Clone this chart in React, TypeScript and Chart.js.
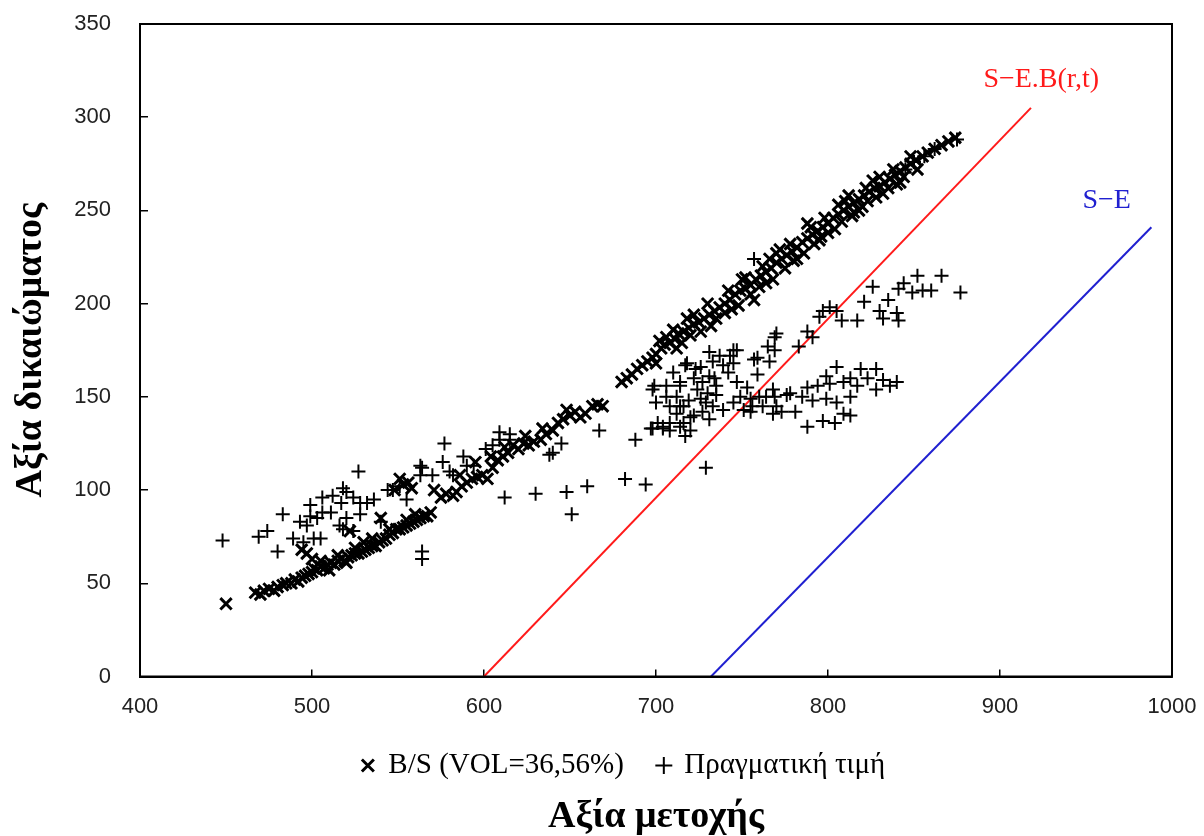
import React, { useEffect, useRef } from "react";
import { Chart, registerables } from "chart.js";

Chart.register(...registerables);

// ---- Data ----
const xTicks = [400, 500, 600, 700, 800, 900, 1000];
const yTicks = [0, 50, 100, 150, 200, 250, 300, 350];

// Black-Scholes values (×): [stock value, option value]
const bsPoints: number[][] = [
  [450, 39], [467, 45], [470, 44], [472, 46], [475, 47], [478, 46], [480, 48], [483, 49], [485, 50], [488, 50],
  [490, 52], [492, 51], [494, 53], [496, 54], [498, 55], [500, 56], [501, 58], [503, 57], [505, 59], [507, 58],
  [509, 60], [511, 61], [513, 60], [515, 62], [517, 63], [519, 62], [521, 64], [523, 65], [525, 66], [527, 66],
  [529, 67], [531, 68], [533, 69], [535, 70], [537, 70], [539, 72], [541, 73], [543, 74], [545, 76], [547, 77],
  [549, 79], [551, 79], [553, 80], [555, 81], [557, 82], [559, 83], [561, 84], [563, 85], [565, 86], [567, 86],
  [569, 88], [494, 68], [497, 66], [500, 63], [522, 78], [530, 72], [540, 85], [548, 100], [551, 106], [553, 103],
  [556, 104], [558, 101], [571, 100], [575, 96], [578, 98], [582, 97], [584, 99], [587, 102], [590, 104], [593, 106],
  [596, 107], [599, 108], [602, 106], [605, 112], [608, 116], [611, 118], [614, 120], [617, 124], [620, 122], [623, 125],
  [626, 124], [629, 126], [633, 127], [636, 130], [640, 132], [643, 136], [646, 138], [650, 140], [653, 142], [656, 139],
  [659, 141], [663, 145], [666, 146], [669, 145], [586, 108], [595, 115], [604, 118], [612, 123], [624, 129], [634, 133],
  [648, 143], [505, 62], [515, 65], [525, 69], [535, 74], [545, 79], [555, 84], [560, 87], [510, 57], [520, 61],
  [680, 158], [683, 160], [686, 162], [689, 165], [692, 167], [695, 169], [698, 171], [700, 173], [703, 176],
  [705, 178], [708, 179], [711, 181], [713, 184], [716, 185], [719, 187], [722, 189], [725, 190], [728, 192], [731, 194],
  [734, 196], [737, 198], [740, 200], [743, 202], [746, 205], [749, 207], [752, 208], [755, 210], [758, 213], [761, 215],
  [764, 217], [767, 219], [770, 222], [773, 224], [776, 226], [779, 228], [782, 230], [785, 233], [788, 235], [791, 237],
  [794, 239], [797, 241], [800, 243], [803, 246], [806, 248], [809, 250], [812, 252], [815, 254], [818, 256], [821, 258],
  [824, 260], [827, 262], [830, 263], [833, 265], [836, 267], [839, 269], [842, 271], [845, 273], [848, 275], [851, 277],
  [855, 279], [858, 281], [862, 283], [866, 285], [870, 287], [874, 289], [700, 168], [710, 186], [720, 183], [730, 200],
  [740, 195], [750, 213], [760, 209], [770, 227], [780, 223], [790, 241], [800, 238], [810, 255], [820, 252], [830, 268],
  [840, 264], [715, 179], [735, 192], [755, 205], [775, 219], [795, 234], [815, 249], [835, 262],
  [706, 182], [718, 192], [726, 185], [742, 207], [748, 199], [762, 220], [768, 213], [778, 232], [786, 227], [798, 246],
  [804, 240], [812, 258], [818, 250], [826, 266], [832, 259], [844, 268], [848, 279], [823, 255], [808, 244], [792, 232],
  [702, 180], [712, 176], [722, 194], [732, 188], [744, 197], [752, 214], [764, 211], [772, 229], [782, 224], [788, 243],
  [796, 236], [806, 253], [814, 247], [822, 262], [828, 257], [838, 272], [842, 265], [852, 272], [757, 202], [766, 224],
];

// Actual market prices (+): [stock value, option value]
const actualPoints: number[][] = [
  [448, 73], [469, 75], [474, 78], [480, 67], [483, 87], [489, 74], [493, 83], [495, 72], [497, 81], [499, 86],
  [499, 92], [501, 74], [503, 85], [505, 74], [506, 88], [506, 96], [511, 88], [512, 97], [516, 81], [517, 93],
  [518, 79], [518, 101], [520, 85], [520, 99], [524, 96], [524, 78], [527, 110], [528, 87], [528, 93], [532, 93],
  [536, 95], [540, 83], [544, 100], [547, 100], [551, 102], [555, 95], [563, 113], [563, 108], [564, 67], [564, 63],
  [564, 112], [570, 108], [576, 115], [577, 125], [580, 110], [582, 108], [588, 118], [590, 113], [594, 113], [601, 122],
  [605, 124], [609, 131], [609, 127], [612, 96], [615, 127], [615, 130], [630, 98], [638, 119], [640, 120], [645, 125],
  [648, 99], [651, 87], [660, 102], [667, 132], [682, 106], [688, 127], [694, 103], [697, 133], [704, 134], [714, 134],
  [717, 129], [729, 112],
  [698, 154], [699, 156], [700, 147], [701, 136], [698, 133], [704, 133], [706, 150], [706, 156], [708, 145], [708, 136],
  [708, 132], [714, 158], [714, 145], [714, 156], [716, 145], [716, 136], [717, 167], [718, 168], [720, 139], [720, 132],
  [722, 140], [722, 160], [724, 154], [726, 166], [726, 149], [727, 158], [727, 142], [730, 152], [731, 174], [731, 161],
  [731, 138], [733, 169], [733, 145], [735, 156], [735, 151], [737, 172], [739, 167], [739, 143], [743, 172], [745, 168],
  [745, 175], [745, 147], [747, 175], [747, 158], [749, 150], [751, 143], [753, 155], [755, 149], [755, 142], [756, 145],
  [757, 170], [759, 171], [759, 162], [760, 150], [762, 145], [764, 150], [765, 177], [766, 169], [768, 154], [768, 141],
  [769, 175], [769, 150], [769, 182], [770, 184], [770, 145], [773, 142], [776, 151], [778, 152], [781, 142], [783, 177],
  [785, 150], [788, 185], [788, 155], [788, 134], [791, 182], [791, 148],
  [794, 156], [795, 193], [797, 137], [797, 196], [799, 161], [799, 149], [801, 157], [801, 198], [804, 136], [805, 166],
  [805, 147], [805, 196], [808, 191], [809, 158], [809, 141], [813, 160], [813, 150], [813, 140], [817, 156], [817, 191],
  [819, 165], [821, 201], [823, 160], [826, 209], [828, 165], [828, 154], [830, 196], [832, 159], [832, 192], [835, 202],
  [836, 156], [840, 158], [840, 195], [841, 208], [841, 191], [844, 211], [849, 206], [852, 215], [855, 207], [860, 207],
  [866, 215], [877, 206],
  [757, 224], [845, 272], [850, 276], [856, 279], [862, 283], [875, 288],
  [710, 163], [712, 150], [719, 148], [723, 165], [729, 147], [734, 160], [742, 163], [712, 141],
];

// Intrinsic value lines
const redLine: number[][] = [[600, 0], [918, 305]];
const blueLine: number[][] = [[732, 0], [988, 241]];

const seriesLabels = ["B/S (VOL=36,56%)", "Πραγματική τιμή"];
const lineLabels = ["S−E.B(r,t)", "S−E"];
const lineLabelPos: number[][] = [[924, 320], [962, 255]];
const lineColors = ["#ff1a1a", "#2020d0"];

const toXY = (arr: number[][]) => arr.map(([x, y]) => ({ x, y }));

const framePlugin = {
  id: "frame",
  afterDraw(chart: any) {
    const { ctx, chartArea } = chart;
    ctx.save();
    ctx.strokeStyle = "#000";
    ctx.lineWidth = 2;
    ctx.strokeRect(chartArea.left, chartArea.top, chartArea.right - chartArea.left, chartArea.bottom - chartArea.top);
    const xs = chart.scales.x;
    const ys = chart.scales.y;
    ctx.font = "28px 'Liberation Serif', serif";
    ctx.textAlign = "center";
    ctx.textBaseline = "middle";
    lineLabels.forEach((t, i) => {
      ctx.fillStyle = lineColors[i];
      ctx.fillText(t, xs.getPixelForValue(lineLabelPos[i][0]), ys.getPixelForValue(lineLabelPos[i][1]));
    });
    ctx.restore();
  },
};

export default function App() {
  const ref = useRef<HTMLCanvasElement | null>(null);
  useEffect(() => {
    document.body.style.margin = "0";
    if (!ref.current) return;
    const tickFont = { family: "'Liberation Sans', sans-serif", size: 22 };
    const chart = new Chart(ref.current, {
      type: "scatter",
      data: {
        datasets: [
          {
            label: seriesLabels[0],
            data: toXY(bsPoints),
            pointStyle: "crossRot",
            pointRadius: 8,
            borderColor: "#000",
            backgroundColor: "#000",
            borderWidth: 3,
          },
          {
            label: seriesLabels[1],
            data: toXY(actualPoints),
            pointStyle: "cross",
            pointRadius: 7,
            borderColor: "#000",
            backgroundColor: "#000",
            borderWidth: 2,
          },
          {
            label: lineLabels[0],
            data: toXY(redLine),
            showLine: true,
            pointRadius: 0,
            borderColor: lineColors[0],
            borderWidth: 2,
          },
          {
            label: lineLabels[1],
            data: toXY(blueLine),
            showLine: true,
            pointRadius: 0,
            borderColor: lineColors[1],
            borderWidth: 2,
          },
        ] as any,
      },
      options: {
        animation: false,
        responsive: false,
        layout: { padding: { top: 24, right: 32, left: 75, bottom: 0 } },
        scales: {
          x: {
            type: "linear",
            min: 400,
            max: 1000,
            afterBuildTicks: (s: any) => { s.ticks = xTicks.map((v) => ({ value: v })); },
            afterFit: (s: any) => { s.height = 40.5; s.paddingLeft = 0; s.paddingRight = 0; },
            ticks: { font: tickFont, color: "#222", padding: 24, callback: (v: any) => String(v) },
            grid: { drawOnChartArea: false, drawTicks: true, tickLength: -7, color: "#000", lineWidth: 1.5 },
            border: { display: true, color: "#000", width: 2 },
          },
          y: {
            type: "linear",
            min: 0,
            max: 350,
            afterBuildTicks: (s: any) => { s.ticks = yTicks.map((v) => ({ value: v })); },
            afterFit: (s: any) => { s.width = 65; s.paddingTop = 0; s.paddingBottom = 0; },
            ticks: { font: tickFont, color: "#222", padding: 37, callback: (v: any) => String(v) },
            grid: { drawOnChartArea: false, drawTicks: true, tickLength: -8, color: "#000", lineWidth: 1.5 },
            border: { display: true, color: "#000", width: 2 },
            title: {
              display: true,
              text: "Αξία δικαιώματος",
              color: "#000",
              font: { family: "'Liberation Serif', serif", size: 38, weight: "bold" },
              padding: { top: -67, bottom: 0 },
            },
          },
        },
        plugins: {
          legend: {
            display: true,
            position: "bottom",
            labels: {
              filter: (item: any) => item.datasetIndex < 2,
              usePointStyle: true,
              boxWidth: 12,
              boxHeight: 12,
              padding: 34,
              color: "#000",
              font: { family: "'Liberation Serif', serif", size: 29 },
            },
          },
          title: {
            display: true,
            position: "bottom",
            fullSize: false,
            text: "Αξία μετοχής",
            color: "#000",
            font: { family: "'Liberation Serif', serif", size: 38, weight: "bold" },
            padding: { top: 4, bottom: -3.6 },
          },
          tooltip: { enabled: false },
        },
      },
      plugins: [framePlugin],
    } as any);
    return () => chart.destroy();
  }, []);
  return <canvas ref={ref} width={1204} height={836} style={{ display: "block" }} />;
}
